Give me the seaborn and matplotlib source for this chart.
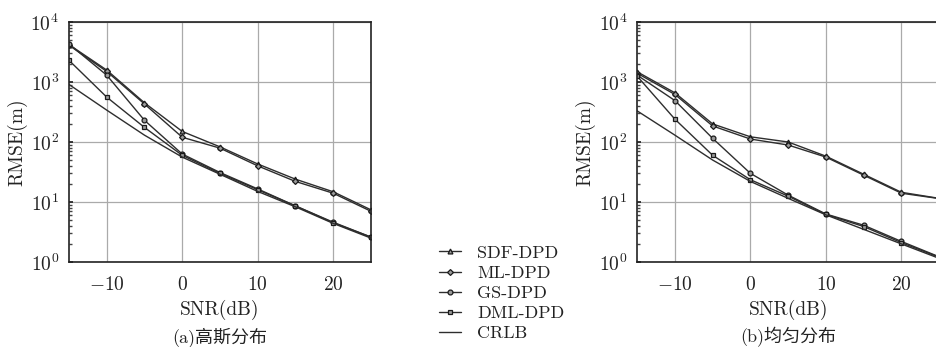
import matplotlib
matplotlib.use("Agg")
import matplotlib.pyplot as plt
import seaborn as sns
import pandas as pd
from matplotlib.ticker import LogLocator

snr = [-15, -10, -5, 0, 5, 10, 15, 20, 25]
methods = ["SDF-DPD", "ML-DPD", "GS-DPD", "DML-DPD", "CRLB"]

# (a) 高斯分布
gauss_sdf = [4200, 1580, 450, 150, 83, 43, 24, 14.8, 7.4]
gauss_ml = [4100, 1500, 430, 120, 79, 40, 22, 14, 7.0]
gauss_gs = [4300, 1300, 230, 63, 31, 16.5, 8.6, 4.6, 2.6]
gauss_dml = [2300, 560, 175, 60, 30, 16, 8.6, 4.5, 2.6]
gauss_crlb = [910, 340, 130, 56, 29, 15, 8.3, 4.4, 2.5]

# (b) 均匀分布
unif_sdf = [1480, 660, 200, 122, 100, 58, 29, 14.5, 11.5]
unif_ml = [1400, 620, 185, 112, 89, 56, 28, 14, 11.4]
unif_gs = [1300, 490, 115, 30, 13, 6.3, 4.1, 2.2, 1.22]
unif_dml = [1250, 240, 60, 23.5, 12.5, 6.2, 3.9, 2.1, 1.2]
unif_crlb = [330, 130, 50, 22, 11.5, 6.1, 3.5, 2.0, 1.15]

markers = {"SDF-DPD": "^", "ML-DPD": "D", "GS-DPD": "o", "DML-DPD": "s", "CRLB": ""}
msize = {"SDF-DPD": 3.5, "ML-DPD": 3, "GS-DPD": 3.5, "DML-DPD": 3.2, "CRLB": 0}


def long_df(series):
    rows = []
    for name, vals in zip(methods, series):
        for x, v in zip(snr, vals):
            rows.append({"SNR": x, "RMSE": v, "method": name})
    return pd.DataFrame(rows)


sns.set_theme(style="whitegrid")
plt.rcParams["font.family"] = ["cmr10", "DejaVu Serif"]
plt.rcParams["mathtext.fontset"] = "cm"
plt.rcParams["axes.formatter.use_mathtext"] = True

fig = plt.figure(figsize=(9.37, 3.47), dpi=100)
ax1 = fig.add_axes([0.0736, 0.245, 0.3223, 0.6916])
ax2 = fig.add_axes([0.680, 0.245, 0.3223, 0.6916])

panels = [
    (ax1, [gauss_sdf, gauss_ml, gauss_gs, gauss_dml, gauss_crlb], "(a)高斯分布"),
    (ax2, [unif_sdf, unif_ml, unif_gs, unif_dml, unif_crlb], "(b)均匀分布"),
]

line_col = "#2e2e2e"
for ax, series, cap in panels:
    df = long_df(series)
    for name in methods:
        sub = df[df["method"] == name]
        sns.lineplot(data=sub, x="SNR", y="RMSE", ax=ax, color=line_col,
                     linewidth=1.0, marker=markers[name] or None,
                     markersize=msize[name], markerfacecolor="#9a9a9a",
                     markeredgecolor="#1a1a1a", markeredgewidth=0.9,
                     label=name, legend=False)
    ax.set_yscale("log")
    ax.set_xlim(-15, 25)
    ax.set_ylim(1, 1e4)
    ax.set_xticks([-10, 0, 10, 20])
    ax.set_xticklabels([r"$-10$", r"$0$", r"$10$", r"$20$"])
    ax.yaxis.set_major_locator(LogLocator(base=10, numticks=10))
    ax.yaxis.set_minor_locator(LogLocator(base=10, subs=range(2, 10), numticks=20))
    ax.tick_params(axis="both", which="major", direction="in", length=3,
                   labelsize=14, colors="#222222", pad=7)
    ax.tick_params(axis="x", which="major", pad=10)
    ax.tick_params(axis="y", which="minor", direction="in", length=2, left=True,
                   colors="#444444")
    ax.tick_params(axis="y", which="major", left=True)
    ax.grid(True, which="major", color="#aaaaaa", linewidth=0.9)
    ax.grid(False, which="minor")
    for sp in ax.spines.values():
        sp.set_color("#222222")
        sp.set_linewidth(1.2)
    ax.set_xlabel("SNR(dB)", fontsize=14, color="#222222", labelpad=4)
    ax.set_ylabel("RMSE(m)", fontsize=14, color="#222222", labelpad=2)
    ax.text(0.5, -0.27, cap, transform=ax.transAxes, ha="center", va="top",
            fontsize=13, color="#222222",
            family=["cmr10", "Noto Sans CJK SC"])

handles, labels = ax1.get_legend_handles_labels()
leg = fig.legend(handles, labels,
                 loc="lower left", bbox_to_anchor=(0.455, -0.02),
                 frameon=False, fontsize=13, handlelength=1.2,
                 labelspacing=0.25, handletextpad=0.9, borderpad=0.2)
for t in leg.get_texts():
    t.set_color("#222222")

fig.savefig("out.png", dpi=100)
